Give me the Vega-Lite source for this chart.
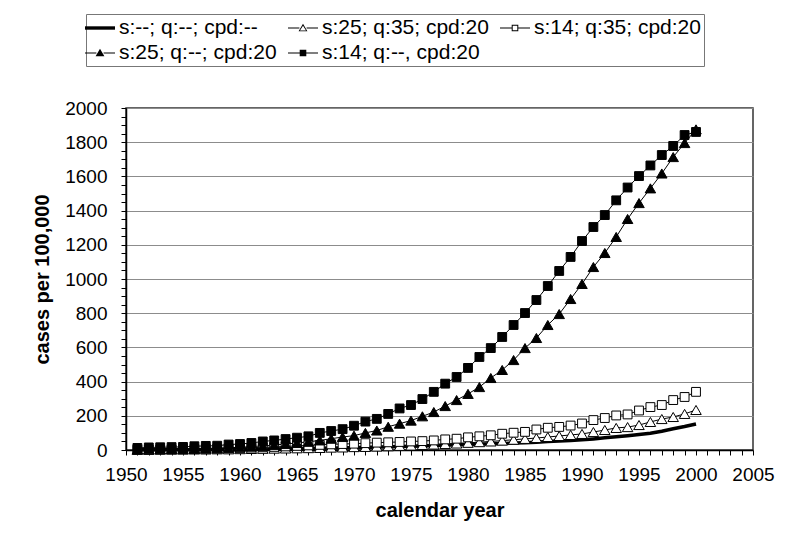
{
  "$schema": "https://vega.github.io/schema/vega-lite/v6.json",
  "width": 627,
  "height": 342,
  "autosize": {"type": "none"},
  "padding": {"left": 126, "top": 108, "right": 47, "bottom": 106},
  "background": "white",
  "config": {
    "font": "Liberation Sans",
    "view": {"stroke": "#333333", "strokeWidth": 1.5}
  },
  "data": {"values": [
{"year":1951,"series":"s:--; q:--; cpd:--","value":1},{"year":1952,"series":"s:--; q:--; cpd:--","value":1},{"year":1953,"series":"s:--; q:--; cpd:--","value":1},{"year":1954,"series":"s:--; q:--; cpd:--","value":1},{"year":1955,"series":"s:--; q:--; cpd:--","value":2},{"year":1956,"series":"s:--; q:--; cpd:--","value":2},{"year":1957,"series":"s:--; q:--; cpd:--","value":2},{"year":1958,"series":"s:--; q:--; cpd:--","value":3},{"year":1959,"series":"s:--; q:--; cpd:--","value":3},{"year":1960,"series":"s:--; q:--; cpd:--","value":4},
{"year":1961,"series":"s:--; q:--; cpd:--","value":4},{"year":1962,"series":"s:--; q:--; cpd:--","value":5},{"year":1963,"series":"s:--; q:--; cpd:--","value":6},{"year":1964,"series":"s:--; q:--; cpd:--","value":7},{"year":1965,"series":"s:--; q:--; cpd:--","value":8},{"year":1966,"series":"s:--; q:--; cpd:--","value":9},{"year":1967,"series":"s:--; q:--; cpd:--","value":10},{"year":1968,"series":"s:--; q:--; cpd:--","value":11},{"year":1969,"series":"s:--; q:--; cpd:--","value":12},{"year":1970,"series":"s:--; q:--; cpd:--","value":14},
{"year":1971,"series":"s:--; q:--; cpd:--","value":15},{"year":1972,"series":"s:--; q:--; cpd:--","value":17},{"year":1973,"series":"s:--; q:--; cpd:--","value":18},{"year":1974,"series":"s:--; q:--; cpd:--","value":20},{"year":1975,"series":"s:--; q:--; cpd:--","value":22},{"year":1976,"series":"s:--; q:--; cpd:--","value":24},{"year":1977,"series":"s:--; q:--; cpd:--","value":26},{"year":1978,"series":"s:--; q:--; cpd:--","value":28},{"year":1979,"series":"s:--; q:--; cpd:--","value":30},{"year":1980,"series":"s:--; q:--; cpd:--","value":32},
{"year":1981,"series":"s:--; q:--; cpd:--","value":34},{"year":1982,"series":"s:--; q:--; cpd:--","value":36},{"year":1983,"series":"s:--; q:--; cpd:--","value":38},{"year":1984,"series":"s:--; q:--; cpd:--","value":41},{"year":1985,"series":"s:--; q:--; cpd:--","value":43},{"year":1986,"series":"s:--; q:--; cpd:--","value":46},{"year":1987,"series":"s:--; q:--; cpd:--","value":49},{"year":1988,"series":"s:--; q:--; cpd:--","value":52},{"year":1989,"series":"s:--; q:--; cpd:--","value":55},{"year":1990,"series":"s:--; q:--; cpd:--","value":60},
{"year":1991,"series":"s:--; q:--; cpd:--","value":65},{"year":1992,"series":"s:--; q:--; cpd:--","value":71},{"year":1993,"series":"s:--; q:--; cpd:--","value":77},{"year":1994,"series":"s:--; q:--; cpd:--","value":84},{"year":1995,"series":"s:--; q:--; cpd:--","value":91},{"year":1996,"series":"s:--; q:--; cpd:--","value":98},{"year":1997,"series":"s:--; q:--; cpd:--","value":110},{"year":1998,"series":"s:--; q:--; cpd:--","value":124},{"year":1999,"series":"s:--; q:--; cpd:--","value":137},{"year":2000,"series":"s:--; q:--; cpd:--","value":152},
{"year":1951,"series":"s:25; q:35; cpd:20","value":1},{"year":1952,"series":"s:25; q:35; cpd:20","value":1},{"year":1953,"series":"s:25; q:35; cpd:20","value":2},{"year":1954,"series":"s:25; q:35; cpd:20","value":2},{"year":1955,"series":"s:25; q:35; cpd:20","value":2},{"year":1956,"series":"s:25; q:35; cpd:20","value":3},{"year":1957,"series":"s:25; q:35; cpd:20","value":3},{"year":1958,"series":"s:25; q:35; cpd:20","value":4},{"year":1959,"series":"s:25; q:35; cpd:20","value":4},{"year":1960,"series":"s:25; q:35; cpd:20","value":5},
{"year":1961,"series":"s:25; q:35; cpd:20","value":6},{"year":1962,"series":"s:25; q:35; cpd:20","value":7},{"year":1963,"series":"s:25; q:35; cpd:20","value":8},{"year":1964,"series":"s:25; q:35; cpd:20","value":9},{"year":1965,"series":"s:25; q:35; cpd:20","value":10},{"year":1966,"series":"s:25; q:35; cpd:20","value":11},{"year":1967,"series":"s:25; q:35; cpd:20","value":12},{"year":1968,"series":"s:25; q:35; cpd:20","value":14},{"year":1969,"series":"s:25; q:35; cpd:20","value":15},{"year":1970,"series":"s:25; q:35; cpd:20","value":17},
{"year":1971,"series":"s:25; q:35; cpd:20","value":18},{"year":1972,"series":"s:25; q:35; cpd:20","value":20},{"year":1973,"series":"s:25; q:35; cpd:20","value":22},{"year":1974,"series":"s:25; q:35; cpd:20","value":24},{"year":1975,"series":"s:25; q:35; cpd:20","value":26},{"year":1976,"series":"s:25; q:35; cpd:20","value":29},{"year":1977,"series":"s:25; q:35; cpd:20","value":32},{"year":1978,"series":"s:25; q:35; cpd:20","value":35},{"year":1979,"series":"s:25; q:35; cpd:20","value":38},{"year":1980,"series":"s:25; q:35; cpd:20","value":42},
{"year":1981,"series":"s:25; q:35; cpd:20","value":46},{"year":1982,"series":"s:25; q:35; cpd:20","value":50},{"year":1983,"series":"s:25; q:35; cpd:20","value":55},{"year":1984,"series":"s:25; q:35; cpd:20","value":60},{"year":1985,"series":"s:25; q:35; cpd:20","value":65},{"year":1986,"series":"s:25; q:35; cpd:20","value":70},{"year":1987,"series":"s:25; q:35; cpd:20","value":76},{"year":1988,"series":"s:25; q:35; cpd:20","value":82},{"year":1989,"series":"s:25; q:35; cpd:20","value":88},{"year":1990,"series":"s:25; q:35; cpd:20","value":94},
{"year":1991,"series":"s:25; q:35; cpd:20","value":105},{"year":1992,"series":"s:25; q:35; cpd:20","value":117},{"year":1993,"series":"s:25; q:35; cpd:20","value":129},{"year":1994,"series":"s:25; q:35; cpd:20","value":134},{"year":1995,"series":"s:25; q:35; cpd:20","value":146},{"year":1996,"series":"s:25; q:35; cpd:20","value":164},{"year":1997,"series":"s:25; q:35; cpd:20","value":181},{"year":1998,"series":"s:25; q:35; cpd:20","value":193},{"year":1999,"series":"s:25; q:35; cpd:20","value":211},{"year":2000,"series":"s:25; q:35; cpd:20","value":234},
{"year":1951,"series":"s:14; q:35; cpd:20","value":2},{"year":1952,"series":"s:14; q:35; cpd:20","value":3},{"year":1953,"series":"s:14; q:35; cpd:20","value":3},{"year":1954,"series":"s:14; q:35; cpd:20","value":4},{"year":1955,"series":"s:14; q:35; cpd:20","value":5},{"year":1956,"series":"s:14; q:35; cpd:20","value":6},{"year":1957,"series":"s:14; q:35; cpd:20","value":7},{"year":1958,"series":"s:14; q:35; cpd:20","value":8},{"year":1959,"series":"s:14; q:35; cpd:20","value":10},{"year":1960,"series":"s:14; q:35; cpd:20","value":12},
{"year":1961,"series":"s:14; q:35; cpd:20","value":14},{"year":1962,"series":"s:14; q:35; cpd:20","value":16},{"year":1963,"series":"s:14; q:35; cpd:20","value":18},{"year":1964,"series":"s:14; q:35; cpd:20","value":21},{"year":1965,"series":"s:14; q:35; cpd:20","value":24},{"year":1966,"series":"s:14; q:35; cpd:20","value":27},{"year":1967,"series":"s:14; q:35; cpd:20","value":30},{"year":1968,"series":"s:14; q:35; cpd:20","value":33},{"year":1969,"series":"s:14; q:35; cpd:20","value":35},{"year":1970,"series":"s:14; q:35; cpd:20","value":37},
{"year":1971,"series":"s:14; q:35; cpd:20","value":40},{"year":1972,"series":"s:14; q:35; cpd:20","value":43},{"year":1973,"series":"s:14; q:35; cpd:20","value":45},{"year":1974,"series":"s:14; q:35; cpd:20","value":47},{"year":1975,"series":"s:14; q:35; cpd:20","value":50},{"year":1976,"series":"s:14; q:35; cpd:20","value":52},{"year":1977,"series":"s:14; q:35; cpd:20","value":56},{"year":1978,"series":"s:14; q:35; cpd:20","value":62},{"year":1979,"series":"s:14; q:35; cpd:20","value":66},{"year":1980,"series":"s:14; q:35; cpd:20","value":74},
{"year":1981,"series":"s:14; q:35; cpd:20","value":80},{"year":1982,"series":"s:14; q:35; cpd:20","value":86},{"year":1983,"series":"s:14; q:35; cpd:20","value":95},{"year":1984,"series":"s:14; q:35; cpd:20","value":101},{"year":1985,"series":"s:14; q:35; cpd:20","value":106},{"year":1986,"series":"s:14; q:35; cpd:20","value":120},{"year":1987,"series":"s:14; q:35; cpd:20","value":130},{"year":1988,"series":"s:14; q:35; cpd:20","value":135},{"year":1989,"series":"s:14; q:35; cpd:20","value":143},{"year":1990,"series":"s:14; q:35; cpd:20","value":155},
{"year":1991,"series":"s:14; q:35; cpd:20","value":175},{"year":1992,"series":"s:14; q:35; cpd:20","value":187},{"year":1993,"series":"s:14; q:35; cpd:20","value":202},{"year":1994,"series":"s:14; q:35; cpd:20","value":208},{"year":1995,"series":"s:14; q:35; cpd:20","value":231},{"year":1996,"series":"s:14; q:35; cpd:20","value":251},{"year":1997,"series":"s:14; q:35; cpd:20","value":263},{"year":1998,"series":"s:14; q:35; cpd:20","value":292},{"year":1999,"series":"s:14; q:35; cpd:20","value":310},{"year":2000,"series":"s:14; q:35; cpd:20","value":340},
{"year":1951,"series":"s:25; q:--; cpd:20","value":3},{"year":1952,"series":"s:25; q:--; cpd:20","value":4},{"year":1953,"series":"s:25; q:--; cpd:20","value":5},{"year":1954,"series":"s:25; q:--; cpd:20","value":6},{"year":1955,"series":"s:25; q:--; cpd:20","value":7},{"year":1956,"series":"s:25; q:--; cpd:20","value":8},{"year":1957,"series":"s:25; q:--; cpd:20","value":9},{"year":1958,"series":"s:25; q:--; cpd:20","value":11},{"year":1959,"series":"s:25; q:--; cpd:20","value":13},{"year":1960,"series":"s:25; q:--; cpd:20","value":16},
{"year":1961,"series":"s:25; q:--; cpd:20","value":20},{"year":1962,"series":"s:25; q:--; cpd:20","value":24},{"year":1963,"series":"s:25; q:--; cpd:20","value":29},{"year":1964,"series":"s:25; q:--; cpd:20","value":35},{"year":1965,"series":"s:25; q:--; cpd:20","value":41},{"year":1966,"series":"s:25; q:--; cpd:20","value":48},{"year":1967,"series":"s:25; q:--; cpd:20","value":56},{"year":1968,"series":"s:25; q:--; cpd:20","value":66},{"year":1969,"series":"s:25; q:--; cpd:20","value":76},{"year":1970,"series":"s:25; q:--; cpd:20","value":84},
{"year":1971,"series":"s:25; q:--; cpd:20","value":100},{"year":1972,"series":"s:25; q:--; cpd:20","value":114},{"year":1973,"series":"s:25; q:--; cpd:20","value":136},{"year":1974,"series":"s:25; q:--; cpd:20","value":154},{"year":1975,"series":"s:25; q:--; cpd:20","value":172},{"year":1976,"series":"s:25; q:--; cpd:20","value":197},{"year":1977,"series":"s:25; q:--; cpd:20","value":222},{"year":1978,"series":"s:25; q:--; cpd:20","value":257},{"year":1979,"series":"s:25; q:--; cpd:20","value":292},{"year":1980,"series":"s:25; q:--; cpd:20","value":328},
{"year":1981,"series":"s:25; q:--; cpd:20","value":368},{"year":1982,"series":"s:25; q:--; cpd:20","value":421},{"year":1983,"series":"s:25; q:--; cpd:20","value":468},{"year":1984,"series":"s:25; q:--; cpd:20","value":526},{"year":1985,"series":"s:25; q:--; cpd:20","value":596},{"year":1986,"series":"s:25; q:--; cpd:20","value":655},{"year":1987,"series":"s:25; q:--; cpd:20","value":731},{"year":1988,"series":"s:25; q:--; cpd:20","value":795},{"year":1989,"series":"s:25; q:--; cpd:20","value":883},{"year":1990,"series":"s:25; q:--; cpd:20","value":971},
{"year":1991,"series":"s:25; q:--; cpd:20","value":1070},{"year":1992,"series":"s:25; q:--; cpd:20","value":1152},{"year":1993,"series":"s:25; q:--; cpd:20","value":1246},{"year":1994,"series":"s:25; q:--; cpd:20","value":1351},{"year":1995,"series":"s:25; q:--; cpd:20","value":1444},{"year":1996,"series":"s:25; q:--; cpd:20","value":1530},{"year":1997,"series":"s:25; q:--; cpd:20","value":1617},{"year":1998,"series":"s:25; q:--; cpd:20","value":1713},{"year":1999,"series":"s:25; q:--; cpd:20","value":1795},{"year":2000,"series":"s:25; q:--; cpd:20","value":1875},
{"year":1951,"series":"s:14; q:--, cpd:20","value":12},{"year":1952,"series":"s:14; q:--, cpd:20","value":15},{"year":1953,"series":"s:14; q:--, cpd:20","value":16},{"year":1954,"series":"s:14; q:--, cpd:20","value":17},{"year":1955,"series":"s:14; q:--, cpd:20","value":18},{"year":1956,"series":"s:14; q:--, cpd:20","value":22},{"year":1957,"series":"s:14; q:--, cpd:20","value":24},{"year":1958,"series":"s:14; q:--, cpd:20","value":25},{"year":1959,"series":"s:14; q:--, cpd:20","value":32},{"year":1960,"series":"s:14; q:--, cpd:20","value":35},
{"year":1961,"series":"s:14; q:--, cpd:20","value":41},{"year":1962,"series":"s:14; q:--, cpd:20","value":50},{"year":1963,"series":"s:14; q:--, cpd:20","value":56},{"year":1964,"series":"s:14; q:--, cpd:20","value":64},{"year":1965,"series":"s:14; q:--, cpd:20","value":72},{"year":1966,"series":"s:14; q:--, cpd:20","value":80},{"year":1967,"series":"s:14; q:--, cpd:20","value":100},{"year":1968,"series":"s:14; q:--, cpd:20","value":111},{"year":1969,"series":"s:14; q:--, cpd:20","value":122},{"year":1970,"series":"s:14; q:--, cpd:20","value":142},
{"year":1971,"series":"s:14; q:--, cpd:20","value":166},{"year":1972,"series":"s:14; q:--, cpd:20","value":182},{"year":1973,"series":"s:14; q:--, cpd:20","value":211},{"year":1974,"series":"s:14; q:--, cpd:20","value":243},{"year":1975,"series":"s:14; q:--, cpd:20","value":263},{"year":1976,"series":"s:14; q:--, cpd:20","value":298},{"year":1977,"series":"s:14; q:--, cpd:20","value":340},{"year":1978,"series":"s:14; q:--, cpd:20","value":388},{"year":1979,"series":"s:14; q:--, cpd:20","value":427},{"year":1980,"series":"s:14; q:--, cpd:20","value":480},
{"year":1981,"series":"s:14; q:--, cpd:20","value":544},{"year":1982,"series":"s:14; q:--, cpd:20","value":596},{"year":1983,"series":"s:14; q:--, cpd:20","value":661},{"year":1984,"series":"s:14; q:--, cpd:20","value":731},{"year":1985,"series":"s:14; q:--, cpd:20","value":801},{"year":1986,"series":"s:14; q:--, cpd:20","value":877},{"year":1987,"series":"s:14; q:--, cpd:20","value":959},{"year":1988,"series":"s:14; q:--, cpd:20","value":1047},{"year":1989,"series":"s:14; q:--, cpd:20","value":1129},{"year":1990,"series":"s:14; q:--, cpd:20","value":1222},
{"year":1991,"series":"s:14; q:--, cpd:20","value":1304},{"year":1992,"series":"s:14; q:--, cpd:20","value":1374},{"year":1993,"series":"s:14; q:--, cpd:20","value":1460},{"year":1994,"series":"s:14; q:--, cpd:20","value":1535},{"year":1995,"series":"s:14; q:--, cpd:20","value":1602},{"year":1996,"series":"s:14; q:--, cpd:20","value":1664},{"year":1997,"series":"s:14; q:--, cpd:20","value":1725},{"year":1998,"series":"s:14; q:--, cpd:20","value":1778},{"year":1999,"series":"s:14; q:--, cpd:20","value":1842},{"year":2000,"series":"s:14; q:--, cpd:20","value":1860}
  ]},
  "encoding": {
    "x": {
      "field": "year", "type": "quantitative",
      "scale": {"domain": [1950, 2005], "nice": false, "zero": false},
      "axis": {
        "values": [1950,1951,1952,1953,1954,1955,1956,1957,1958,1959,1960,1961,1962,1963,1964,1965,1966,1967,1968,1969,1970,1971,1972,1973,1974,1975,1976,1977,1978,1979,1980,1981,1982,1983,1984,1985,1986,1987,1988,1989,1990,1991,1992,1993,1994,1995,1996,1997,1998,1999,2000,2001,2002,2003,2004,2005],
        "format": "d",
        "labelExpr": "datum.value % 5 === 0 ? datum.label : ''",
        "labelFontSize": 19, "labelColor": "black", "labelPadding": 10,
        "labelFlush": false, "labelOverlap": false,
        "tickColor": "black", "tickSize": 5, "domainColor": "black", "domainWidth": 1.5,
        "grid": false,
        "title": "calendar year", "titleFontSize": 20, "titleFontWeight": "bold", "titleColor": "black", "titlePadding": 16
      }
    },
    "y": {
      "field": "value", "type": "quantitative",
      "scale": {"domain": [0, 2000], "nice": false},
      "axis": {
        "values": [0,50,100,150,200,250,300,350,400,450,500,550,600,650,700,750,800,850,900,950,1000,1050,1100,1150,1200,1250,1300,1350,1400,1450,1500,1550,1600,1650,1700,1750,1800,1850,1900,1950,2000],
        "format": "d",
        "labelExpr": "datum.value % 200 === 0 ? datum.label : ''",
        "labelFontSize": 19, "labelColor": "black", "labelPadding": 14,
        "labelOverlap": false, "labelFlush": false,
        "tickColor": "black", "tickSize": 5, "domainColor": "black", "domainWidth": 1.5,
        "grid": true, "gridColor": "#8c8c8c", "gridWidth": 1.2,
        "gridOpacity": {"condition": {"test": "datum.value % 200 === 0", "value": 1}, "value": 0},
        "title": "cases per 100,000", "titleFontSize": 20, "titleFontWeight": "bold", "titleColor": "black", "titlePadding": 12
      }
    }
  },
  "layer": [
    {
      "mark": {"type": "line", "color": "black", "interpolate": "linear"},
      "encoding": {
        "detail": {"field": "series", "type": "nominal"},
        "strokeWidth": {"condition": {"test": "datum.series === 's:--; q:--; cpd:--'", "value": 3.5}, "value": 1}
      }
    },
    {
      "transform": [{"filter": "datum.series !== 's:--; q:--; cpd:--'"}],
      "mark": {"type": "point", "filled": true, "stroke": "black", "strokeWidth": 1, "opacity": 1},
      "encoding": {
        "size": {"condition": {"test": "indexof(datum.series, 's:25') === 0", "value": 110}, "value": 78},
        "fill": {"condition": {"test": "indexof(datum.series, 'q:35') >= 0", "value": "white"}, "value": "black"},
        "shape": {"condition": {"test": "indexof(datum.series, 's:25') === 0", "value": "triangle-up"}, "value": "square"}
      }
    },
    {
      "mark": {"type": "point", "filled": true, "opacity": 0, "size": 400},
      "encoding": {
        "fill": {
          "field": "series", "type": "nominal",
          "scale": {"domain": ["s:--; q:--; cpd:--", "s:25; q:35; cpd:20", "s:14; q:35; cpd:20", "s:25; q:--; cpd:20", "s:14; q:--, cpd:20"], "range": ["black", "black", "black", "black", "black"]}
        },
        "shape": {
          "field": "series", "type": "nominal",
          "scale": {"domain": ["s:--; q:--; cpd:--", "s:25; q:35; cpd:20", "s:14; q:35; cpd:20", "s:25; q:--; cpd:20", "s:14; q:--, cpd:20"],
            "range": [
              "M-1.5,-0.17H1.5V0.17H-1.5Z",
              "M-1.5,-0.05H-0.36V0.05H-1.5ZM0.36,-0.05H1.5V0.05H0.36ZM0,-0.42L0.44,0.33L-0.44,0.33ZM0,-0.22L-0.3,0.25L0.3,0.25Z",
              "M-1.5,-0.05H-0.33V0.05H-1.5ZM0.33,-0.05H1.5V0.05H0.33ZM-0.33,-0.33H0.33V0.33H-0.33ZM-0.23,-0.23V0.23H0.23V-0.23Z",
              "M-1.5,-0.05H-0.36V0.05H-1.5ZM0.36,-0.05H1.5V0.05H0.36ZM0,-0.42L0.44,0.33L-0.44,0.33Z",
              "M-1.5,-0.05H-0.33V0.05H-1.5ZM0.33,-0.05H1.5V0.05H0.33ZM-0.33,-0.33H0.33V0.33H-0.33Z"
            ]},
          "legend": {
            "title": null,
            "orient": "none",
            "legendX": -40,
            "legendY": -94,
            "direction": "horizontal",
            "columns": 3,
            "columnPadding": 8,
            "rowPadding": 4,
            "padding": 3,
            "strokeColor": "#777777",
            "fillColor": "white",
            "labelFontSize": 21,
            "labelColor": "black",
            "labelOffset": 8,
            "labelLimit": 300,
            "symbolSize": 400,
            "symbolOpacity": 1
          }
        }
      }
    }
  ]
}
